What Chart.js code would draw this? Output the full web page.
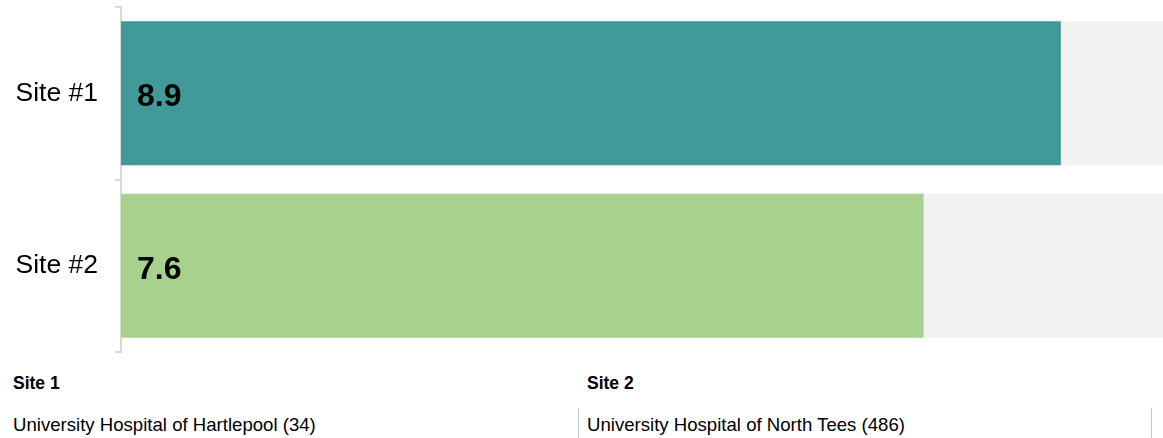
<!DOCTYPE html>
<html>
<head>
<meta charset="utf-8">
<script src="https://cdn.jsdelivr.net/npm/chart.js@4"></script>
<style>
  html, body { margin: 0; padding: 0; background: #fff; overflow: hidden; }
  body { width: 1163px; height: 438px; position: relative; font-family: Arial, "Liberation Sans", sans-serif; color: #000; }
  #wrap { position: absolute; left: 0; top: 0; width: 1177px; height: 360px; }
  .site { position: absolute; top: 373px; height: 65px; }
  .site h4 { margin: 0; font-size: 17.5px; font-weight: bold; line-height: 20px; }
  .site p { margin: 0; position: absolute; top: 35px; height: 32px; font-size: 18.6px; line-height: 34px; white-space: nowrap; }
  #site1 { left: 13px; width: 565px; }
  #site2 { left: 587px; width: 564px; }
  .divider { position: absolute; top: 408px; width: 1px; height: 32px; background: #c8c8c8; }
</style>
</head>
<body>
<div id="wrap"><canvas id="chart"></canvas></div>

<div class="site" id="site1"><h4>Site 1</h4><p>University Hospital of Hartlepool (34)</p></div>
<div class="divider" style="left:578px"></div>
<div class="site" id="site2"><h4>Site 2</h4><p>University Hospital of North Tees (486)</p></div>
<div class="divider" style="left:1151px"></div>

<script>
const categories = ['Site #1', 'Site #2'];
const scores = [8.9, 7.6];
const scaleMax = [10, 10];
const barColors = ['#429999', '#a9d18e'];

// draws the score inside each bar, near the left edge
const valueLabels = {
  id: 'valueLabels',
  afterDatasetsDraw(chart) {
    const ctx = chart.ctx;
    const meta = chart.getDatasetMeta(0);
    ctx.save();
    ctx.font = 'bold 32px Arial, "Liberation Sans", sans-serif';
    ctx.fillStyle = '#000';
    ctx.textAlign = 'left';
    ctx.textBaseline = 'middle';
    meta.data.forEach((bar, i) => {
      ctx.fillText(scores[i].toFixed(1), chart.chartArea.left + 16, bar.y + 4);
    });
    ctx.restore();
  },
};

const ctx = document.getElementById('chart').getContext('2d');
new Chart(ctx, {
  type: 'bar',
  data: {
    labels: categories,
    datasets: [
      {
        data: scores,
        backgroundColor: barColors,
        borderWidth: 0,
      },
      {
        data: scaleMax,
        backgroundColor: '#f2f2f2',
        borderWidth: 0,
      },
    ],
  },
  options: {
    indexAxis: 'y',
    responsive: true,
    maintainAspectRatio: false,
    animation: false,
    layout: { padding: { top: 7, bottom: 8, left: 0, right: 0 } },
    datasets: {
      bar: { grouped: false, categoryPercentage: 1, barPercentage: 0.835 },
    },
    scales: {
      x: { display: false, min: 0, max: 10 },
      y: {
        afterFit(scale) {
          scale.width = 121;
          scale.paddingTop = 0;
          scale.paddingBottom = 0;
        },
        border: { display: true, color: '#d9d9d9', width: 2 },
        grid: { offset: true, drawOnChartArea: false, tickLength: 6, color: '#d9d9d9', lineWidth: 2 },
        ticks: {
          padding: 17,
          color: '#000',
          font: { family: 'Arial, "Liberation Sans", sans-serif', size: 26.5 },
        },
      },
    },
    plugins: {
      legend: { display: false },
      tooltip: { enabled: false },
    },
  },
  plugins: [valueLabels],
});
</script>
</body>
</html>
